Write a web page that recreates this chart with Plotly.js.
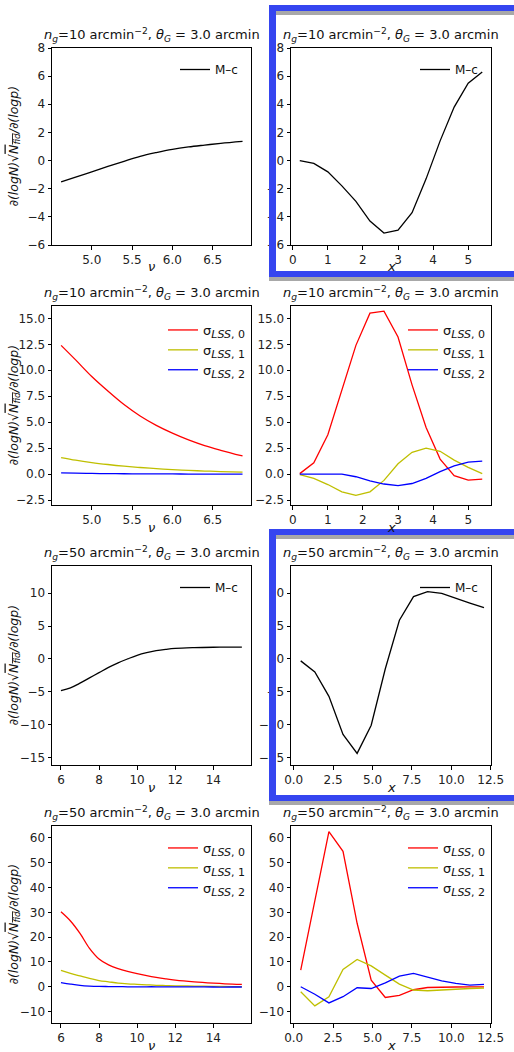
<!DOCTYPE html>
<html>
<head>
<meta charset="utf-8">
<script src="https://cdn.plot.ly/plotly-3.0.1.min.js"></script>
<style>html,body{margin:0;padding:0;background:#fff;}#plot{width:514px;height:1052px;}</style>
</head>
<body>
<div id="plot"></div>
<script>
// ---------- data ----------
// n_g = 10, left column (nu)
var nu10 = [4.62, 4.8, 5.0, 5.2, 5.4, 5.6, 5.8, 6.0, 6.2, 6.4, 6.6, 6.87];
var mc10Nu = [-1.52, -1.17, -0.80, -0.42, -0.05, 0.30, 0.57, 0.80, 0.97, 1.10, 1.22, 1.36];
var lss0_10Nu = [12.4, 11.0, 9.4, 8.0, 6.7, 5.6, 4.7, 3.95, 3.3, 2.75, 2.3, 1.75];
var lss1_10Nu = [1.6, 1.35, 1.12, 0.93, 0.77, 0.64, 0.53, 0.44, 0.36, 0.30, 0.25, 0.20];
var lss2_10Nu = [0.12, 0.09, 0.07, 0.05, 0.04, 0.03, 0.02, 0.02, 0.01, 0.0, 0.0, 0.0];
// n_g = 10, right column (x)
var x10 = [0.2, 0.6, 1.0, 1.4, 1.8, 2.2, 2.6, 3.0, 3.4, 3.8, 4.2, 4.6, 5.0, 5.4];
var mc10X = [0.0, -0.2, -0.8, -1.8, -2.9, -4.3, -5.15, -4.95, -3.7, -1.3, 1.4, 3.8, 5.5, 6.3];
var lss0_10X = [0.05, 1.1, 3.8, 8.0, 12.4, 15.5, 15.7, 13.2, 8.6, 4.5, 1.45, -0.15, -0.58, -0.48];
var lss1_10X = [-0.05, -0.4, -1.0, -1.7, -2.05, -1.7, -0.6, 1.0, 2.1, 2.5, 2.2, 1.35, 0.65, 0.05];
var lss2_10X = [0.0, 0.0, 0.05, 0.0, -0.25, -0.65, -0.95, -1.1, -0.9, -0.4, 0.25, 0.8, 1.15, 1.25];
// n_g = 50, left column (nu)
var nu50 = [6.0, 6.5, 7.0, 7.5, 8.0, 8.5, 9.0, 9.5, 10.0, 10.5, 11.0, 11.5, 12.0, 13.0, 14.0, 15.0, 15.5];
var mc50Nu = [-4.85, -4.4, -3.7, -2.9, -2.1, -1.3, -0.6, 0.0, 0.55, 0.95, 1.25, 1.45, 1.6, 1.72, 1.78, 1.8, 1.8];
var lss0_50Nu = [30.2, 26.5, 21.5, 15.5, 11.2, 8.8, 7.3, 6.2, 5.3, 4.5, 3.8, 3.2, 2.7, 2.0, 1.5, 1.1, 1.0];
var lss1_50Nu = [6.6, 5.4, 4.4, 3.4, 2.5, 2.0, 1.5, 1.2, 1.0, 0.8, 0.6, 0.5, 0.4, 0.3, 0.2, 0.1, 0.1];
var lss2_50Nu = [1.7, 1.1, 0.6, 0.3, 0.15, 0.1, 0.05, 0.0, 0.0, 0.0, 0.0, -0.05, -0.05, -0.05, -0.1, -0.1, -0.1];
// n_g = 50, right column (x)
var x50 = [0.447, 1.342, 2.236, 3.130, 4.025, 4.919, 5.814, 6.708, 7.603, 8.497, 9.391, 10.286, 11.180, 12.075];
var mc50X = [-0.3, -2.0, -5.7, -11.5, -14.4, -10.1, -1.5, 5.9, 9.5, 10.25, 10.0, 9.2, 8.5, 7.8];
var lss0_50X = [6.7, 35.0, 62.5, 54.6, 25.6, 2.7, -4.3, -3.5, -1.2, -0.3, -0.1, -0.1, 0.0, 0.0];
var lss1_50X = [-2.0, -7.7, -4.0, 7.0, 11.0, 8.4, 4.7, 1.1, -1.3, -1.6, -1.3, -0.9, -0.7, -0.5];
var lss2_50X = [0.0, -3.0, -6.5, -4.0, -0.4, -0.7, 1.6, 4.3, 5.4, 3.8, 2.4, 1.4, 0.7, 1.0];

// tick values
var nuTicks10 = [5.0, 5.5, 6.0, 6.5];
var xTicks10 = [0, 1, 2, 3, 4, 5];
var nuTicks50 = [6, 8, 10, 12, 14];
var xTicks50 = [0.0, 2.5, 5.0, 7.5, 10.0, 12.5];
var yTicksRow1 = [-6, -4, -2, 0, 2, 4, 6, 8];
var yTicksRow2 = [-2.5, 0.0, 2.5, 5.0, 7.5, 10.0, 12.5, 15.0];
var yTicksRow3 = [-15, -10, -5, 0, 5, 10];
var yTicksRow4 = [-10, 0, 10, 20, 30, 40, 50, 60];

// labels
var mcName = 'M–c';
var lssNames = [
  'σ<sub><span style="font-size:11px"><i>LSS</i>, 0</span></sub>',
  'σ<sub><span style="font-size:11px"><i>LSS</i>, 1</span></sub>',
  'σ<sub><span style="font-size:11px"><i>LSS</i>, 2</span></sub>'
];
var titleTexts = [
  '<i>n</i><sub><i>g</i></sub>=10 arcmin<sup>−2</sup>, <i>θ</i><sub><i>G</i></sub> = 3.0 arcmin',
  '<i>n</i><sub><i>g</i></sub>=50 arcmin<sup>−2</sup>, <i>θ</i><sub><i>G</i></sub> = 3.0 arcmin'
];
var yLabel = '<i>∂(logN)</i>√<span style="text-decoration:overline"><i>N</i><sub><i>fid</i></sub></span><i>/∂(logp)</i>';

// ---------- layout geometry (pixels) ----------
var W = 514, H = 1052;
var FONT = 'DejaVu Sans, Arial, sans-serif';
var colX = [[52, 251], [291, 491]];
var rowY = [[48, 245], [306, 505], [566, 765], [826, 1023]];
function px(x) { return x / W; }
function py(y) { return 1 - y / H; }

var xRanges = [[4.507, 6.975], [-0.05, 5.65], [5.53, 15.98], [-0.17, 12.52]];
var yRanges = [[-6, 8], [-2.97, 16.19], [-16.17, 14.16], [-14.6, 64.8]];
var yTickSets = [yTicksRow1, yTicksRow2, yTicksRow3, yTicksRow4];
var yTickFmt = ['d', '.1f', 'd', 'd'];

var RED = '#ff0000', YEL = '#bfbf00', BLU = '#0000ff', BLK = '#000000';
var LW = 1.3;

var traces = [];
var layout = {
  width: W, height: H,
  margin: {l: 0, r: 0, t: 0, b: 0},
  paper_bgcolor: '#fff', plot_bgcolor: '#fff',
  font: {family: FONT, size: 12, color: '#222'},
  showlegend: true,
  shapes: [], annotations: []
};

// legend positions: [line start x, first item centre y]
var legendPos = [
  [180, 65], [420, 65],
  [168, 325], [408, 325],
  [180, 583], [420, 583],
  [168, 843], [408, 843]
];

for (var i = 0; i < 8; i++) {
  var r = Math.floor(i / 2), c = i % 2;
  var n = i + 1;
  var xa = 'xaxis' + (n === 1 ? '' : n), ya = 'yaxis' + (n === 1 ? '' : n);
  var xr = 'x' + (n === 1 ? '' : n), yr = 'y' + (n === 1 ? '' : n);
  var isLeft = (c === 0);
  var ng50 = (r >= 2);
  var xTv, xFmt;
  if (!ng50) { xTv = isLeft ? nuTicks10 : xTicks10; xFmt = isLeft ? '.1f' : 'd'; }
  else { xTv = isLeft ? nuTicks50 : xTicks50; xFmt = isLeft ? 'd' : '.1f'; }
  var common = {
    showline: true, mirror: true, linecolor: '#000', linewidth: 1,
    ticks: 'outside', ticklen: 3.5, tickwidth: 1, tickcolor: '#000',
    showgrid: false, zeroline: false, fixedrange: true,
    tickfont: {family: FONT, size: 12, color: '#222'}
  };
  layout[xa] = Object.assign({}, common, {
    domain: [px(colX[c][0]), px(colX[c][1])],
    anchor: yr, range: xRanges[(ng50 ? 2 : 0) + c],
    tickmode: 'array', tickvals: xTv,
    ticktext: xTv.map(function (v) { return xFmt === 'd' ? String(v) : v.toFixed(1); })
  });
  layout[ya] = Object.assign({}, common, {
    domain: [py(rowY[r][1]), py(rowY[r][0])],
    anchor: xr, range: yRanges[r],
    tickmode: 'array', tickvals: yTickSets[r],
    ticktext: yTickSets[r].map(function (v) {
      var s = yTickFmt[r] === 'd' ? String(Math.abs(v)) : Math.abs(v).toFixed(1);
      return (v < 0 ? '−' : '') + s;
    })
  });

  var isMc = (r === 0 || r === 2);
  // legend
  var lgName = 'legend' + (n === 1 ? '' : n);
  layout[lgName] = {
    x: px(legendPos[i][0] - 5), y: py(legendPos[i][1] - 10),
    xanchor: 'left', yanchor: 'top',
    xref: 'paper', yref: 'paper',
    bgcolor: 'rgba(0,0,0,0)', borderwidth: 0,
    font: {family: FONT, size: isMc ? 12 : 13, color: '#111'},
    tracegroupgap: 0, itemclick: false, itemdoubleclick: false
  };

  // data selection
  var xs, sets;
  if (r === 0) { xs = isLeft ? nu10 : x10; sets = [[isLeft ? mc10Nu : mc10X, BLK, mcName]]; }
  else if (r === 1) {
    xs = isLeft ? nu10 : x10;
    sets = isLeft ? [[lss0_10Nu, RED, lssNames[0]], [lss1_10Nu, YEL, lssNames[1]], [lss2_10Nu, BLU, lssNames[2]]]
                  : [[lss0_10X, RED, lssNames[0]], [lss1_10X, YEL, lssNames[1]], [lss2_10X, BLU, lssNames[2]]];
  } else if (r === 2) { xs = isLeft ? nu50 : x50; sets = [[isLeft ? mc50Nu : mc50X, BLK, mcName]]; }
  else {
    xs = isLeft ? nu50 : x50;
    sets = isLeft ? [[lss0_50Nu, RED, lssNames[0]], [lss1_50Nu, YEL, lssNames[1]], [lss2_50Nu, BLU, lssNames[2]]]
                  : [[lss0_50X, RED, lssNames[0]], [lss1_50X, YEL, lssNames[1]], [lss2_50X, BLU, lssNames[2]]];
  }
  sets.forEach(function (s) {
    traces.push({
      type: 'scatter', mode: 'lines', x: xs, y: s[0], xaxis: xr, yaxis: yr,
      name: s[2], legend: lgName, line: {color: s[1], width: LW, shape: isLeft ? 'spline' : 'linear'},
      hoverinfo: 'skip'
    });
  });

  // subplot title
  layout.annotations.push({
    xref: 'paper', yref: 'paper', x: px((colX[c][0] + colX[c][1]) / 2), y: py(rowY[r][0]),
    xanchor: 'center', yanchor: 'bottom', yshift: 2, showarrow: false,
    text: titleTexts[ng50 ? 1 : 0], font: {family: FONT, size: 13, color: '#111'}
  });
  // x label
  layout.annotations.push({
    xref: 'paper', yref: 'paper', x: px((colX[c][0] + colX[c][1]) / 2), y: py(rowY[r][1] + 22),
    xanchor: 'center', yanchor: 'middle', showarrow: false,
    text: isLeft ? '<i>ν</i>' : '<i>x</i>', font: {family: FONT, size: 13, color: '#111'}
  });
  // y label (left column only)
  if (isLeft) {
    layout.annotations.push({
      xref: 'paper', yref: 'paper', x: px(14), y: py((rowY[r][0] + rowY[r][1]) / 2),
      xanchor: 'center', yanchor: 'middle', showarrow: false, textangle: -90,
      text: yLabel, font: {family: FONT, size: 12.5, color: '#111'}
    });
  }
}

// highlight frames (blue with grey edge), drawn above the charts
var BLUE_F = '#3545f0', GREY_F = '#a8a8a8';
function bar(x0, y0, x1, y1, col) {
  layout.shapes.push({type: 'rect', xref: 'paper', yref: 'paper', layer: 'above',
    x0: px(x0), x1: px(x1), y0: py(y1), y1: py(y0), fillcolor: col, line: {width: 0}});
}
[[5, 277], [529, 801]].forEach(function (f) {
  var top = f[0], bot = f[1];
  bar(276, top + 6, 514, top + 10, GREY_F);
  bar(269, bot, 514, bot + 4, GREY_F);
  bar(269, top, 514, top + 6, BLUE_F);
  bar(269, bot - 6, 514, bot, BLUE_F);
  bar(269, top, 276, bot, BLUE_F);
});

Plotly.newPlot('plot', traces, layout, {displayModeBar: false, staticPlot: true});
</script>
</body>
</html>
